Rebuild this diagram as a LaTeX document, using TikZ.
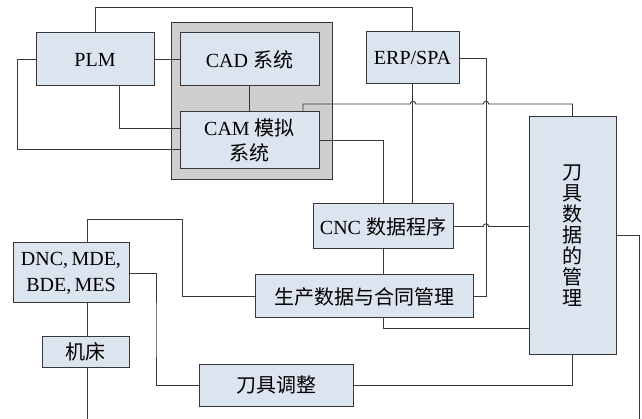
\documentclass[tikz,border=0pt]{standalone}
\usepackage{fontspec}
\setmainfont{Liberation Serif}
\newfontfamily\cjk{Noto Sans CJK SC}
\begin{document}
\begin{tikzpicture}[x=1pt,y=1pt,
  box/.style={draw=linec, fill=boxc, line width=1pt, inner sep=0pt, align=center,
    font=\fontsize{20}{26}\selectfont},
  conn/.style={draw=linec, line width=0.9pt}]
\definecolor{linec}{HTML}{363636}
\definecolor{boxc}{HTML}{DCE4EF}
\definecolor{grayc}{HTML}{CFCFCF}
\useasboundingbox (0,0) rectangle (642,-419);
% gray group
\node[draw=linec, fill=grayc, line width=1pt, minimum width=161pt, minimum height=157pt, inner sep=0pt] (G) at (251.5,-101.5) {};
% boxes
\node[box, minimum width=118pt, minimum height=53pt] (PLM) at (95,-59.5) {PLM};
\node[box, minimum width=139pt, minimum height=53pt] (CAD) at (249.5,-59.5) {CAD {\cjk 系统}};
\node[box, minimum width=139pt, minimum height=57pt] (CAM) at (249.5,-140.5) {CAM {\cjk 模拟}\\[-1pt]{\cjk 系统}};
\node[box, minimum width=93pt, minimum height=52pt] (ERP) at (412.5,-58) {ERP/SPA};
\node[box, minimum width=87pt, minimum height=237pt, font=\fontsize{20}{21}\selectfont] (Tool) at (572.5,-235.5) {\cjk 刀\\\cjk 具\\\cjk 数\\\cjk 据\\\cjk 的\\\cjk 管\\\cjk 理};
\node[box, minimum width=140pt, minimum height=45pt] (CNC) at (383,-226.5) {CNC {\cjk 数据程序}};
\node[box, minimum width=218pt, minimum height=43pt] (PD) at (364,-296.5) {\cjk 生产数据与合同管理};
\node[box, minimum width=154pt, minimum height=42pt] (TA) at (276,-385) {\cjk 刀具调整};
\node[box, minimum width=116pt, minimum height=60pt] (DNC) at (71,-273) {DNC,\,MDE,\\BDE,\,MES};
\node[box, minimum width=87pt, minimum height=31pt] (MT) at (85.5,-351.5) {\cjk 机床};
% helper coordinates
\coordinate (top) at (0,-7);
\coordinate (L1) at (17,-149);
\coordinate (R1) at (486,-58);
\coordinate (K1) at (182,-219);
\coordinate (K2) at (156,-330);
\coordinate (E1) at (639,-419);
\coordinate (E2) at (87,-419);
% connectors
\draw[conn] (PLM.north) |- (top -| ERP.north) -- (ERP.north);
\draw[conn] (PLM.west) -| (L1) -- (L1 -| CAM.west);
\draw[conn] ([xshift=24pt]PLM.south) |- (CAM.west |- 0,-128);
\draw[conn] (PLM.east) -- (CAD.west);
\draw[conn] (CAD.south) -- (CAM.north);
\draw[conn] ([xshift=53.5pt]CAM.north) |- (410.3,-104) arc[start angle=180,end angle=0,radius=2.7] -- (483.3,-104) arc[start angle=180,end angle=0,radius=2.7] -| (Tool.north);
\draw[conn] (CAM.east) -| (CNC.north);
\draw[conn] (ERP.east) -- (R1) |- (PD.east);
\draw[conn] (ERP.south) -- (ERP.south |- CNC.north);
\draw[conn] (CNC.east) -- (483.3,-226.5) arc[start angle=180,end angle=0,radius=2.7] -- (CNC.east -| Tool.west);
\draw[conn] (CNC.south) -- (CNC.south |- PD.north);
\draw[conn] ([xshift=19pt]PD.south) |- (Tool.west |- 0,-328);
\draw[conn] (Tool.east) -| (E1);
\draw[conn] (Tool.south) |- (TA.east);
\draw[conn] ([xshift=16pt]DNC.north) |- (K1) |- (PD.west);
\draw[conn] (DNC.east) -| (K2) |- (TA.west);
\draw[conn] ([xshift=16pt]DNC.south) -- ([xshift=16pt]DNC.south |- MT.north);
\draw[conn] (MT.south -| E2) -- (E2);
\end{tikzpicture}
\end{document}
